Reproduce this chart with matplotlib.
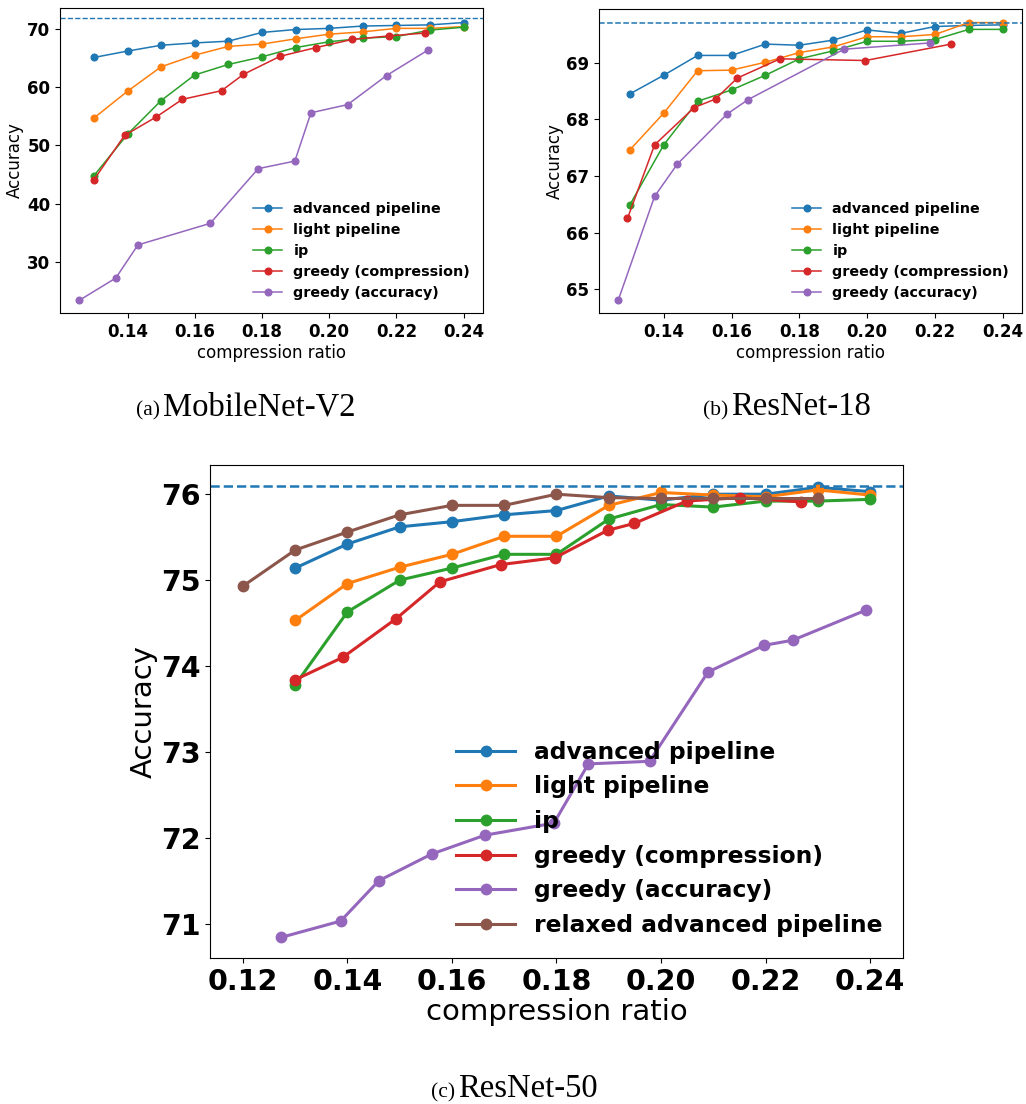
import matplotlib
matplotlib.use("Agg")

import matplotlib.pyplot as plt

# ---------------------------------------------------------------------------
# Data
# ---------------------------------------------------------------------------
X_GRID = [0.13, 0.14, 0.15, 0.16, 0.17, 0.18, 0.19, 0.20, 0.21, 0.22, 0.23, 0.24]

# (a) MobileNet-V2
MB_BASELINE = 71.85
MB_ADV = [65.1, 66.2, 67.2, 67.6, 67.9, 69.4, 69.9, 70.1, 70.5, 70.6, 70.7, 71.1]
MB_LIGHT = [54.7, 59.3, 63.5, 65.5, 67.0, 67.4, 68.3, 69.1, 69.5, 70.1, 70.1, 70.4]
MB_IP = [44.8, 51.9, 57.7, 62.1, 63.9, 65.2, 66.8, 67.8, 68.4, 68.7, 69.8, 70.3]
MB_GC_X = [0.13, 0.1391, 0.1486, 0.1563, 0.168, 0.1745, 0.1854, 0.1961, 0.2069, 0.2177, 0.2286]
MB_GC = [44.1, 51.7, 54.9, 57.9, 59.4, 62.2, 65.3, 66.8, 68.2, 68.8, 69.3]
MB_GA_X = [0.1257, 0.1365, 0.1431, 0.1646, 0.1789, 0.1898, 0.1946, 0.2055, 0.2171, 0.2295]
MB_GA = [23.4, 27.2, 32.9, 36.6, 46.0, 47.3, 55.6, 57.0, 62.0, 66.4]

# (b) ResNet-18
R18_BASELINE = 69.70
R18_ADV = [68.45, 68.78, 69.13, 69.13, 69.33, 69.31, 69.40, 69.58, 69.52, 69.64, 69.66, 69.67]
R18_LIGHT = [67.46, 68.11, 68.86, 68.87, 69.01, 69.18, 69.28, 69.46, 69.46, 69.50, 69.71, 69.71]
R18_IP = [66.49, 67.55, 68.32, 68.52, 68.78, 69.07, 69.21, 69.38, 69.38, 69.41, 69.59, 69.59]
R18_GC_X = [0.1293, 0.1373, 0.149, 0.1553, 0.1617, 0.1743, 0.1995, 0.2248]
R18_GC = [66.25, 67.55, 68.21, 68.36, 68.73, 69.07, 69.04, 69.33]
R18_GA_X = [0.1266, 0.1373, 0.144, 0.1586, 0.1649, 0.1932, 0.2185]
R18_GA = [64.81, 66.64, 67.21, 68.09, 68.35, 69.24, 69.35]

# (c) ResNet-50
R50_BASELINE = 76.1
R50_ADV = [75.14, 75.42, 75.62, 75.68, 75.76, 75.81, 75.98, 75.93, 76.00, 76.00, 76.08, 76.03]
R50_LIGHT = [74.53, 74.96, 75.15, 75.30, 75.51, 75.51, 75.87, 76.02, 75.99, 75.97, 76.05, 75.99]
R50_IP = [73.78, 74.63, 75.00, 75.14, 75.30, 75.30, 75.71, 75.88, 75.85, 75.92, 75.92, 75.94]
R50_GC_X = [0.13, 0.1391, 0.1493, 0.1577, 0.1693, 0.1797, 0.1898, 0.1949, 0.2049, 0.2151, 0.2268]
R50_GC = [73.84, 74.10, 74.55, 74.98, 75.18, 75.26, 75.58, 75.66, 75.92, 75.96, 75.91]
R50_GA_X = [0.1273, 0.1387, 0.1460, 0.1561, 0.1663, 0.1795, 0.1861, 0.1978, 0.2090, 0.2197, 0.2252, 0.2392]
R50_GA = [70.84, 71.03, 71.50, 71.81, 72.03, 72.17, 72.86, 72.89, 73.93, 74.24, 74.30, 74.65]
R50_RELAX_X = [0.12, 0.13, 0.14, 0.15, 0.16, 0.17, 0.18, 0.19, 0.20, 0.21, 0.22, 0.23]
R50_RELAX = [74.93, 75.35, 75.56, 75.76, 75.87, 75.87, 76.00, 75.96, 75.95, 75.95, 75.95, 75.95]

LABELS = ["advanced pipeline", "light pipeline", "ip",
          "greedy (compression)", "greedy (accuracy)", "relaxed advanced pipeline"]
COLORS = ["#1f77b4", "#ff7f0e", "#2ca02c", "#d62728", "#9467bd", "#8c564b"]

W, H = 1026, 1104


def px_axes(fig, left, top, right, bottom):
    return fig.add_axes([left / W, 1 - bottom / H, (right - left) / W, (bottom - top) / H])


def draw_panel(ax, series, baseline, xlim, ylim, xticks, yticks,
               lw, ms, tick_fs, label_fs, legend_fs, dash_lw, handlelength=2.0):
    for (xs, ys), label, color in zip(series, LABELS, COLORS):
        ax.plot(xs, ys, marker="o", color=color, lw=lw, ms=ms, label=label)
    ax.axhline(baseline, color=COLORS[0], ls="--", lw=dash_lw)
    ax.set_xlim(*xlim)
    ax.set_ylim(*ylim)
    ax.set_xticks(xticks)
    ax.set_xticklabels([f"{t:.2f}" for t in xticks], fontsize=tick_fs, fontweight="bold")
    ax.set_yticks(yticks)
    ax.set_yticklabels([str(t) for t in yticks], fontsize=tick_fs, fontweight="bold")
    ax.set_xlabel("compression ratio", fontsize=label_fs, labelpad=2)
    ax.set_ylabel("Accuracy", fontsize=label_fs, labelpad=2)
    ax.legend(loc="lower right", frameon=False, handlelength=handlelength,
              prop={"weight": "bold", "size": legend_fs})


fig = plt.figure(figsize=(W / 100, H / 100), dpi=100)

# (a) MobileNet-V2
ax_a = px_axes(fig, 60, 8, 483, 313)
draw_panel(
    ax_a,
    [(X_GRID, MB_ADV), (X_GRID, MB_LIGHT), (X_GRID, MB_IP),
     (MB_GC_X, MB_GC), (MB_GA_X, MB_GA)],
    MB_BASELINE, (0.1199, 0.2458), (21.2, 73.6),
    [0.14, 0.16, 0.18, 0.20, 0.22, 0.24], [30, 40, 50, 60, 70],
    lw=1.1, ms=4.8, tick_fs=12, label_fs=12, legend_fs=10.3, dash_lw=1.0,
)

# (b) ResNet-18
ax_b = px_axes(fig, 599, 9, 1022, 313)
draw_panel(
    ax_b,
    [(X_GRID, R18_ADV), (X_GRID, R18_LIGHT), (X_GRID, R18_IP),
     (R18_GC_X, R18_GC), (R18_GA_X, R18_GA)],
    R18_BASELINE, (0.1209, 0.2457), (64.58, 69.95),
    [0.14, 0.16, 0.18, 0.20, 0.22, 0.24], [65, 66, 67, 68, 69],
    lw=1.1, ms=4.8, tick_fs=12, label_fs=12, legend_fs=10.3, dash_lw=1.1,
)

# (c) ResNet-50
ax_c = px_axes(fig, 210, 465, 903, 958)
draw_panel(
    ax_c,
    [(X_GRID, R50_ADV), (X_GRID, R50_LIGHT), (X_GRID, R50_IP),
     (R50_GC_X, R50_GC), (R50_GA_X, R50_GA), (R50_RELAX_X, R50_RELAX)],
    R50_BASELINE, (0.1137, 0.2463), (70.6, 76.34),
    [0.12, 0.14, 0.16, 0.18, 0.20, 0.22, 0.24], [71, 72, 73, 74, 75, 76],
    lw=2.2, ms=7.5, tick_fs=20.5, label_fs=21, legend_fs=16.8, dash_lw=1.8,
    handlelength=2.5,
)

# captions (serif, smaller "(x)" prefix)
SERIF = ["Liberation Serif", "DejaVu Serif"]
for prefix, name, x_split, y_base in [("(a)", "MobileNet-V2", 160, 415),
                                      ("(b)", "ResNet-18", 728, 415),
                                      ("(c)", "ResNet-50", 455, 1097)]:
    fig.text(x_split / W, 1 - y_base / H, prefix, ha="right", va="baseline",
             fontsize=15.5, family=SERIF)
    fig.text((x_split + 3) / W, 1 - y_base / H, name, ha="left", va="baseline",
             fontsize=23.5, family=SERIF)

fig.savefig("out.png", dpi=100)
